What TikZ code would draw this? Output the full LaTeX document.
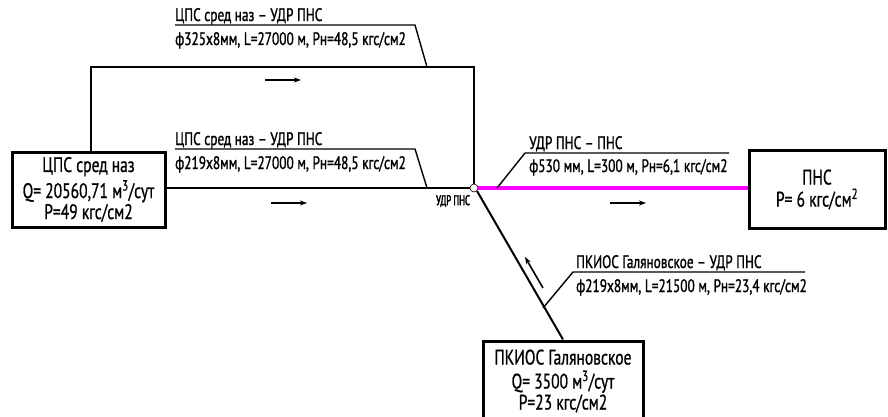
\documentclass[tikz,border=0pt]{standalone}
\usepackage{fontspec}
\setmainfont[FakeStretch=0.74,FakeBold=0.8]{PT Sans}
\newfontfamily\lblfont[FakeStretch=0.74,FakeBold=1.2]{PT Sans}
\newfontfamily\tagfont[FakeStretch=0.62,FakeBold=2.5]{PT Sans}
\usetikzlibrary{arrows.meta}
\definecolor{pipepink}{RGB}{255,0,255}
\tikzset{
  x=1pt,y=1pt,
  pipe/.style={line width=2pt},
  leader/.style={line width=1.4pt},
  stationbox/.style={draw,line width=3pt,align=center,inner sep=0pt,font=\fontsize{21}{21}\selectfont},
  lbl/.style={anchor=base west,inner sep=0pt,font=\lblfont\fontsize{18}{19}\selectfont},
  flow/.style={line width=1.6pt,-{Stealth[length=7pt,width=5pt]}},
}
\begin{document}
\begin{tikzpicture}
\useasboundingbox (0,0) rectangle (888,-417);
% stations
\node[stationbox,minimum width=153,minimum height=75] (lbox) at (88.5,-189.5)
  {ЦПС сред наз\\[3pt]Q= 20560,71 м\textsuperscript{3}/сут\\[0pt]P=49 кгс/см2};
\node[stationbox,minimum width=136,minimum height=78,font=\fontsize{21}{21}\selectfont] (pns) at (817,-189.5)
  {ПНС\\[1pt]P= 6 кгс/см\textsuperscript{2}};
\node[stationbox,minimum width=160,minimum height=80] (pk) at (563,-381)
  {ПКИОС Галяновское\\[3pt]Q= 3500 м\textsuperscript{3}/сут\\[0pt]P=23 кгс/см2};
% junction
\node[draw,circle,minimum size=8pt,inner sep=0pt,line width=0.6pt] (j) at (474,-188) {};
\node[inner sep=0pt,font=\tagfont\fontsize{14}{15}\selectfont] (jt) at (453,-201) {УДР ПНС};
% pipes
\coordinate (topL) at (91,-67);
\coordinate (topR) at (474,-67);
\draw[pipe] (lbox.north -| topL) -- (topL) -- (topR) -- (j.north);
\draw[pipe] (lbox.east |- j) -- (j.west);
\draw[line width=4pt,pipepink] (j.east) -- (pns.west |- j);
\draw[pipe] (j.south east) -- (pk.north);
% flow arrows
\coordinate (a1s) at (265,-80); \coordinate (a1e) at (301,-80);
\draw[flow] (a1s) -- (a1e);
\coordinate (a2s) at (271,-203); \coordinate (a2e) at (307,-203);
\draw[flow] (a2s) -- (a2e);
\coordinate (a3s) at (610,-203); \coordinate (a3e) at (646,-203);
\draw[flow] (a3s) -- (a3e);
\coordinate (a4s) at (543,-288); \coordinate (a4e) at (525,-257);
\draw[flow] (a4s) -- (a4e);
% label 1
\node[lbl] (l1a) at (175,-21) {ЦПС сред наз – УДР ПНС};
\node[lbl] (l1b) at (175,-45) {ф325х8мм, L=27000 м, Pн=48,5 кгс/см2};
\coordinate (u1a) at (175,-25); \coordinate (u1b) at (415,-25); \coordinate (u1c) at (427,-67);
\draw[leader] (u1a) -- (u1b) -- (u1c);
% label 2
\node[lbl] (l2a) at (175,-145) {ЦПС сред наз – УДР ПНС};
\node[lbl] (l2b) at (175,-169) {ф219х8мм, L=27000 м, Pн=48,5 кгс/см2};
\coordinate (u2a) at (175,-149); \coordinate (u2b) at (415,-149); \coordinate (u2c) at (427,-188);
\draw[leader] (u2a) -- (u2b) -- (u2c);
% label 3
\node[lbl] (l3a) at (529,-149) {УДР ПНС – ПНС};
\node[lbl] (l3b) at (529,-172) {ф530 мм, L=300 м, Pн=6,1 кгс/см2};
\coordinate (u3a) at (497,-188); \coordinate (u3b) at (525,-153); \coordinate (u3c) at (729,-153);
\draw[leader] (u3a) -- (u3b) -- (u3c);
% label 4
\node[lbl] (l4a) at (576,-268) {ПКИОС Галяновское – УДР ПНС};
\node[lbl] (l4b) at (576,-292) {ф219х8мм, L=21500 м, Pн=23,4 кгс/см2};
\coordinate (u4a) at (543,-308); \coordinate (u4b) at (573,-272); \coordinate (u4c) at (805,-272);
\draw[leader] (u4a) -- (u4b) -- (u4c);
\end{tikzpicture}
\end{document}
